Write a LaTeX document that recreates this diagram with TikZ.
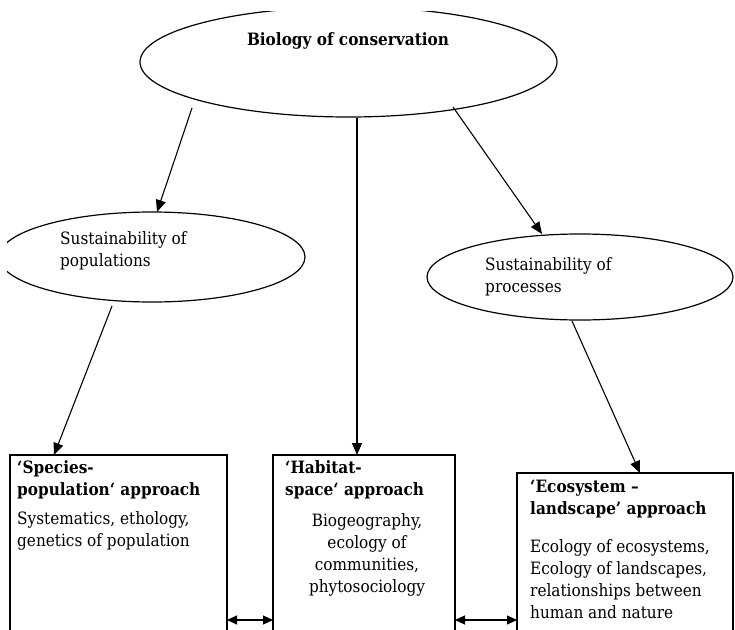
\documentclass[tikz,border=0pt]{standalone}
\usepackage{fontspec}
\setmainfont{DejaVu Serif Condensed}
\usetikzlibrary{arrows.meta,shapes.geometric}
\begin{document}
\begin{tikzpicture}[x=1pt,y=-1pt,
  ell/.style={draw,ellipse,line width=1.2pt,inner sep=0pt,outer sep=0pt},
  box/.style={draw,rectangle,line width=1.2pt,inner sep=0pt,outer sep=0pt,anchor=north west},
  arr/.style={line width=1.1pt,-{Triangle[length=12pt,width=10pt]}},
  darr/.style={line width=1.2pt,{Triangle[length=10pt,width=9pt]}-{Triangle[length=10pt,width=9pt]}},
  txt/.style={inner sep=0pt,align=left,font=\fontsize{17}{22}\selectfont},
  btxt/.style={inner sep=0pt,align=left,font=\fontsize{17}{22}\selectfont\bfseries}]
\useasboundingbox (0,0) rectangle (735,629);
\begin{scope}
\clip (7,11) rectangle (735,629);
% ellipses
\node[ell,minimum width=417pt,minimum height=110pt] (T) at (348.5,62) {};
\node[ell,minimum width=306pt,minimum height=90pt] (L) at (152,257) {};
\node[ell,minimum width=306pt,minimum height=86pt] (R) at (580,277) {};
% boxes
\node[box,minimum width=217pt,minimum height=260pt] (b1) at (10,455) {};
\node[box,minimum width=182pt,minimum height=260pt] (b2) at (273,455) {};
\node[box,minimum width=216pt,minimum height=260pt] (b3) at (517,473) {};
% texts
\node[btxt,anchor=center] (tT) at (348,41) {Biology of conservation};
\node[txt,anchor=west] (tL) at (60,250.5) {Sustainability of\\populations};
\node[txt,anchor=west] (tR) at (485,276.5) {Sustainability of\\processes};
\node[btxt,anchor=west] (h1) at (17,480) {‘Species-\\population‘ approach};
\node[txt,anchor=west] (d1) at (17,531) {Systematics, ethology,\\genetics of population};
\node[btxt,anchor=west] (h2) at (285,480) {‘Habitat-\\space‘ approach};
\node[txt,anchor=center,align=center] (d2) at (367,555) {Biogeography,\\ecology of\\communities,\\phytosociology};
\node[btxt,anchor=west] (h3) at (530,499) {‘Ecosystem –\\landscape’ approach};
\node[txt,anchor=west] (d3) at (530,579) {Ecology of ecosystems,\\Ecology of landscapes,\\relationships between\\human and nature};
% arrow starts
\coordinate (s1) at (192,108);
\coordinate (s2) at (357,118);
\coordinate (s3) at (453,107);
\coordinate (s4) at (112,306);
\coordinate (s5) at (572,321);
% arrows
\draw[arr] (s1) -- (L.north -| 157,0);
\draw[arr] (s2) -- (b2.north -| s2);
\draw[arr] (s3) -- (R.north -| 542,0);
\draw[arr] (s4) -- (b1.north -| 54,0);
\draw[arr] (s5) -- (b3.north -| 640,0);
\draw[darr] (b1.east |- 0,620) -- (b2.west |- 0,620);
\draw[darr] (b2.east |- 0,620) -- (b3.west |- 0,620);
\end{scope}
\end{tikzpicture}
\end{document}
